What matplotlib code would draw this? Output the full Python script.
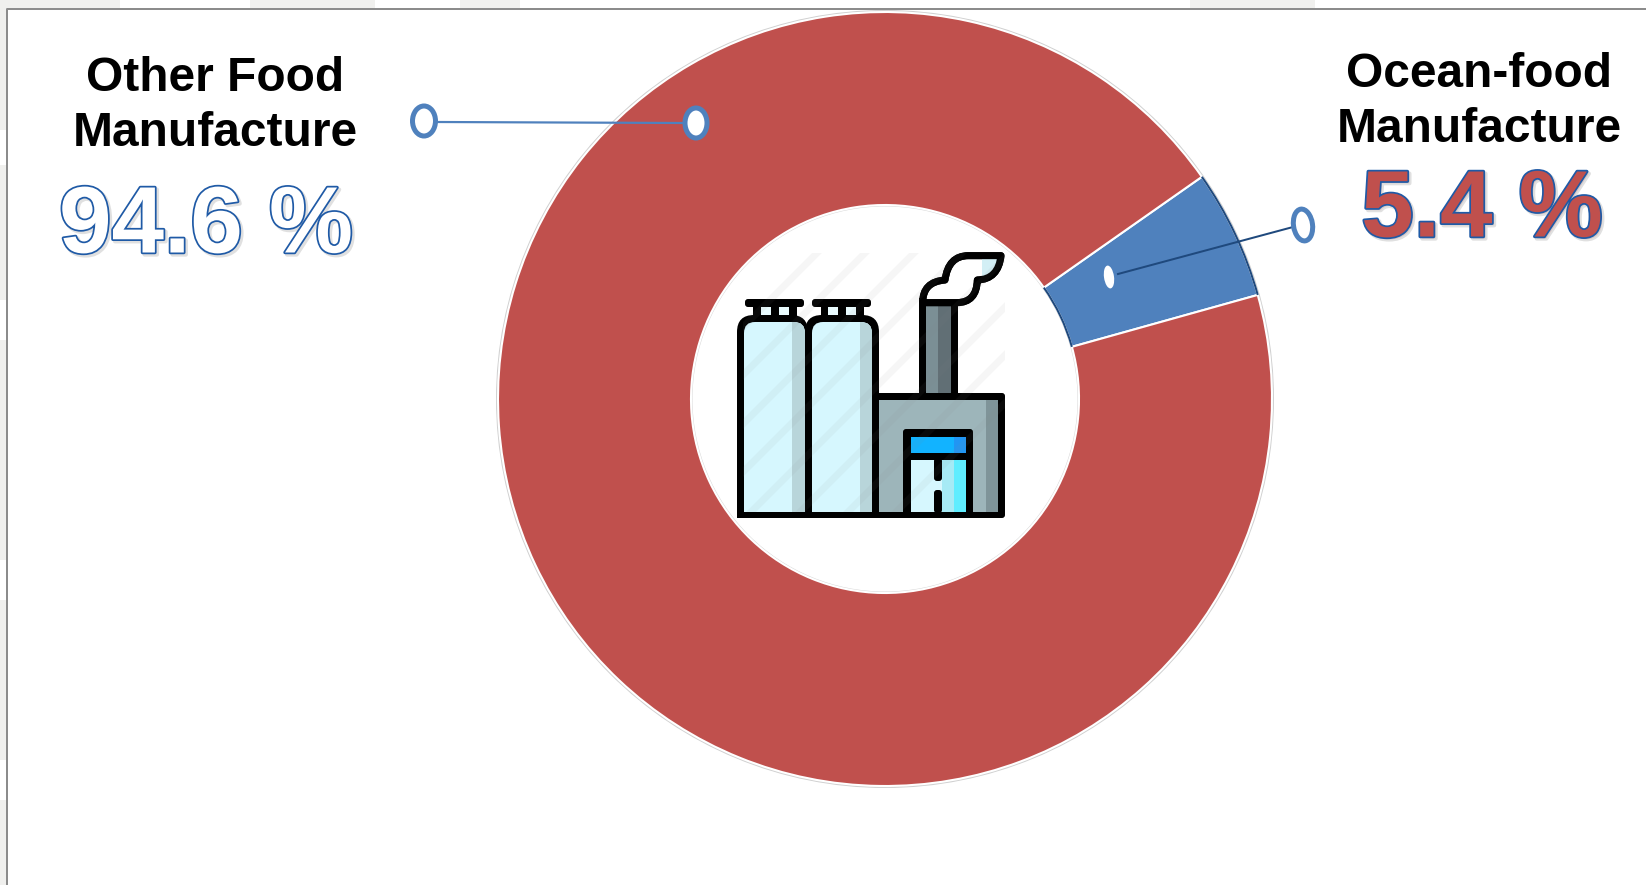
import numpy as np
from matplotlib import pyplot as plt
from matplotlib import patheffects as pe
from matplotlib.patches import Arc, Circle, Ellipse, FancyBboxPatch, PathPatch, Rectangle
from matplotlib.path import Path

categories = ['Ocean-food\nManufacture', 'Other Food\nManufacture']
shares = [5.4, 94.6]
share_labels = ['5.4 %', '94.6 %']
colors = ['#4F81BD', '#C0504D']

W, H = 1646, 885
plt.rcParams['font.family'] = ['Liberation Sans', 'DejaVu Sans']

fig = plt.figure(figsize=(W / 100, H / 100), dpi=100)
ax = fig.add_axes([0, 0, 1, 1])


def Y(py):
    return H - py


def lw(px):
    return px * 0.72


# 圆环
cx, cy, r_out, r_in = 885, Y(399), 387, 194
ax.add_patch(Circle((cx, cy), r_out + 2, fc='#d0d0d0', ec='none', zorder=1))
wedges, _ = ax.pie(shares, colors=colors, startangle=15.6, center=(cx, cy), radius=r_out,
                   wedgeprops=dict(width=r_out - r_in, edgecolor='white', linewidth=1.5, zorder=2))
ax.add_patch(Circle((cx, cy), r_in, fc='white', ec='#d8d8d8', lw=lw(3), zorder=1.5))
for w in wedges[:1]:
    for r in (r_out, r_in):
        ax.add_patch(Arc((cx, cy), 2 * r, 2 * r, theta1=w.theta1, theta2=w.theta2,
                         color='#1F497D', lw=lw(2), zorder=3))

ax.set_xlim(0, W)
ax.set_ylim(0, H)
ax.set_aspect('auto')
ax.axis('off')

# 外框和外面的浅色底纹
for x0, x1 in [(0, 120), (250, 375), (460, 520), (1190, 1315)]:
    ax.add_patch(Rectangle((x0, Y(8)), x1 - x0, 8, fc='#f0f0ee', ec='none', zorder=0))
for y0, y1 in [(0, 130), (165, 300), (340, 560), (600, 760), (800, 885)]:
    ax.add_patch(Rectangle((0, Y(y1)), 6, y1 - y0, fc='#f0f0ee', ec='none', zorder=0))
ax.plot([7, 7, W], [0, Y(9), Y(9)], color='#8c8c8c', lw=lw(2), zorder=1)


# 引线
def marker(x, y, w, h, angle=0, edge='#4F81BD', line=4):
    ax.add_patch(Ellipse((x, Y(y)), w, h, angle=angle, fc='white', ec=edge, lw=lw(line), zorder=6))


ax.plot([437, 684], [Y(122), Y(123)], color='#4F81BD', lw=lw(2.2), zorder=5)
marker(424, 121, 23, 30, line=5)
marker(696, 123, 22, 30, line=5)
ax.plot([1118, 1293], [Y(274), Y(227)], color='#1F497D', lw=lw(2), zorder=5)
marker(1303, 225, 19, 32, angle=8, line=5)
marker(1109, 277, 10, 23, angle=8, edge='white', line=0)

# 文字
shadow = pe.Stroke(linewidth=3, foreground='#555555', alpha=0.18, offset=(1.5, -1.5))
outline = pe.Stroke(linewidth=2.5, foreground='#1F5AA6')
label_pos = [(1479, 102), (215, 106)]
value_pos = [(1482, 212), (206, 228)]
value_colors = [colors[1], 'white']
for i in range(2):
    ax.text(label_pos[i][0], Y(label_pos[i][1]), categories[i], ha='center', va='center',
            fontsize=34.5, fontweight='bold', color='black', linespacing=1.27, zorder=7)
    ax.text(value_pos[i][0], Y(value_pos[i][1]), share_labels[i], ha='center', va='center',
            fontsize=68, color=value_colors[i], fontweight='bold', zorder=7,
            path_effects=[shadow, outline, pe.Normal()])


# 工厂图标 (坐标取自局部放大图)
def ix(z):
    return round(700 + z / 3)


def iy(z):
    return Y(round(220 + z / 3))


def box(x0, y0, x1, y1, color, z=10, round_px=0):
    w, h = ix(x1) - ix(x0), iy(y0) - iy(y1)
    if round_px:
        p = FancyBboxPatch((ix(x0) + round_px, iy(y1) + round_px), w - 2 * round_px, h - 2 * round_px,
                           boxstyle='round,pad=%f,rounding_size=%f' % (round_px, round_px),
                           fc=color, ec='none', zorder=z)
    else:
        p = Rectangle((ix(x0), iy(y1)), w, h, fc=color, ec='none', zorder=z)
    ax.add_patch(p)
    return p


for dx, right in ((0, 325), (202, 537)):
    box(135 + dx, 237, 312 + dx, 260, 'black', round_px=3)
    box(160 + dx, 258, 290 + dx, 295, 'black')
    box(183 + dx, 262, 212 + dx, 284, '#e9fbfe', z=11)
    box(236 + dx, 262, 266 + dx, 284, '#e9fbfe', z=11)
    box(112 + dx, 285, right, 500, 'black', round_px=17)
    box(112 + dx, 400, right, 895, 'black')
    box(133 + dx, 305, 315 + dx, 500, '#d6f7fe', z=11, round_px=11)
    box(133 + dx, 400, 315 + dx, 875, '#d6f7fe', z=11)
    box(277 + dx, 400, 315 + dx, 875, '#b8d5da', z=12)
    top = box(277 + dx, 305, 315 + dx, 400, '#b8d5da', z=12)
    top.set_clip_path(box(133 + dx, 305, 315 + dx, 500, 'none', z=12, round_px=11))

# 烟囱
box(657, 235, 773, 530, 'black')
box(679, 258, 752, 518, '#7b8f95', z=11)
box(715, 258, 752, 518, '#616f75', z=12)

# 厂房
box(515, 518, 915, 895, 'black', round_px=3)
box(537, 540, 893, 875, '#9db5ba', z=11)
box(857, 540, 893, 875, '#7f9499', z=12)
box(610, 628, 820, 895, 'black', z=13, round_px=3)
box(632, 650, 798, 698, '#12b3ff', z=14)
box(762, 650, 798, 698, '#2196f3', z=15)
box(632, 720, 798, 875, '#d6f7fe', z=14)
box(727, 720, 762, 875, '#a6eaf5', z=15)
box(762, 720, 798, 875, '#5fedff', z=15)
box(703, 715, 727, 783, 'black', z=16, round_px=3)
box(703, 810, 727, 880, 'black', z=16, round_px=3)

# 烟
smoke = [(668, 248), (668, 185), (735, 180), (745, 107), (805, 107), (903, 107),
         (895, 178), (832, 180), (830, 248), (770, 248), (668, 248)]
codes = [Path.MOVETO, Path.CURVE3, Path.CURVE3, Path.CURVE3, Path.CURVE3, Path.LINETO,
         Path.CURVE3, Path.CURVE3, Path.CURVE3, Path.CURVE3, Path.CLOSEPOLY]
smoke_path = Path([(700 + a / 3, iy(0) - b / 3) for a, b in smoke], codes)
ax.add_patch(PathPatch(smoke_path, fc='white', ec='black', lw=lw(7), joinstyle='round', zorder=17))
tint = box(845, 110, 903, 170, '#d3eff5', z=17.5)
tint.set_clip_path(PathPatch(smoke_path, transform=ax.transData))
ax.add_patch(PathPatch(smoke_path, fc='none', ec='black', lw=lw(7), joinstyle='round', zorder=17.6))

# 图标上的浅色斜纹
stripe_clip = Rectangle((ix(130), iy(875)), 785 / 3, 778 / 3, transform=ax.transData)
for c in np.arange(450, 1600, 145):
    s, = ax.plot([ix(c - 900), ix(c)], [iy(900), iy(0)], color='#888888', alpha=0.07, lw=lw(7),
                 solid_capstyle='butt', zorder=18)
    s.set_clip_path(stripe_clip)

fig.savefig('out.png', dpi=100)
